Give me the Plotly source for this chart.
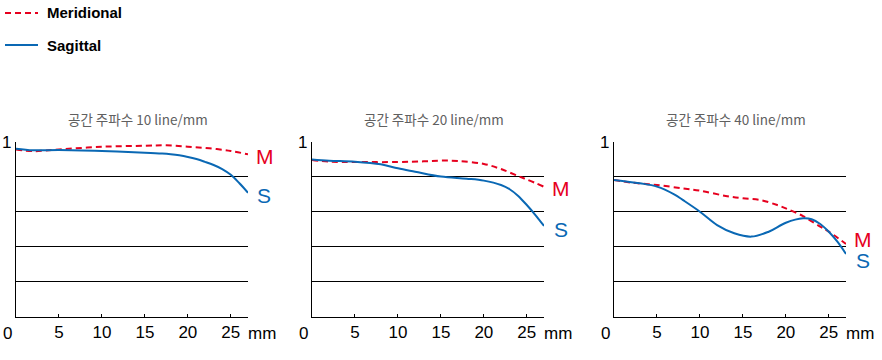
import plotly.graph_objects as go

# ---------------- data ----------------
freqs = ["10", "20", "40"]
titles = ["공간 주파수 10 line/mm", "공간 주파수 20 line/mm", "공간 주파수 40 line/mm"]

m10_x = [0, 2, 5, 10, 15, 17.5, 20, 22.5, 25, 27]
m10_y = [0.955, 0.945, 0.955, 0.970, 0.976, 0.978, 0.970, 0.961, 0.946, 0.927]
s10_x = [0, 2, 5, 10, 15, 17, 18, 19, 20, 21, 22, 23, 24, 25, 26, 27]
s10_y = [0.959, 0.950, 0.952, 0.946, 0.936, 0.931, 0.927, 0.921, 0.912, 0.900, 0.884, 0.866, 0.843, 0.810, 0.762, 0.708]

m20_x = [0, 2, 5, 10, 13, 15, 17, 20, 22, 24, 25, 27]
m20_y = [0.895, 0.885, 0.883, 0.883, 0.887, 0.891, 0.889, 0.872, 0.843, 0.803, 0.784, 0.742]
s20_x = [0, 2, 5, 8, 10, 12, 15, 18, 20, 22, 23, 24, 25, 26, 27]
s20_y = [0.898, 0.891, 0.885, 0.870, 0.847, 0.828, 0.800, 0.788, 0.777, 0.752, 0.728, 0.690, 0.638, 0.581, 0.519]

m40_x = [0, 2, 5, 8, 10, 13, 15, 17, 19, 20, 22, 24, 25, 27]
m40_y = [0.781, 0.766, 0.752, 0.733, 0.720, 0.690, 0.676, 0.667, 0.638, 0.619, 0.575, 0.515, 0.486, 0.416]
s40_x = [0, 3, 5, 7, 8, 10, 12, 14, 16, 18, 20, 22, 23, 24, 25, 26, 27]
s40_y = [0.781, 0.762, 0.743, 0.699, 0.667, 0.600, 0.524, 0.477, 0.458, 0.486, 0.537, 0.562, 0.557, 0.530, 0.486, 0.429, 0.359]

x_ticks = [5, 10, 15, 20, 25]
grid_vals = [0.2, 0.4, 0.6, 0.8]
series_names = ["Meridional", "Sagittal"]

# ---------------- style ----------------
W, H = 882, 360
RED = "#e6001e"
BLUE = "#0a68b4"
FONT = "Liberation Sans, Arial, Helvetica, sans-serif"
KFONT = "Noto Sans CJK KR, sans-serif"

# panel pixel geometry (left, right of plotting area)
panels_px = [(16, 248), (312, 544), (614, 846)]
y0_px, y1_px = 317, 141.5

def px_x(p):
    return p / W

def px_y(p):
    return 1 - p / H

fig = go.Figure()

data = [(m10_x, m10_y, s10_x, s10_y), (m20_x, m20_y, s20_x, s20_y), (m40_x, m40_y, s40_x, s40_y)]
for i, (mx, my, sx, sy) in enumerate(data):
    xa = "x" if i == 0 else f"x{i+1}"
    ya = "y" if i == 0 else f"y{i+1}"
    fig.add_trace(go.Scatter(x=mx, y=my, mode="lines", xaxis=xa, yaxis=ya,
                             line=dict(color=RED, width=2, dash="6px,4px", shape="spline", smoothing=1),
                             showlegend=False, name=series_names[0]))
    fig.add_trace(go.Scatter(x=sx, y=sy, mode="lines", xaxis=xa, yaxis=ya,
                             line=dict(color=BLUE, width=2, shape="spline", smoothing=1),
                             showlegend=False, name=series_names[1]))

layout = dict(width=W, height=H, margin=dict(l=0, r=0, t=0, b=0),
              plot_bgcolor="white", paper_bgcolor="white", showlegend=False)

annotations = []
shapes = []
for i, (l, r) in enumerate(panels_px):
    sfx = "" if i == 0 else str(i + 1)
    layout["xaxis" + sfx] = dict(domain=[px_x(l), px_x(r)], range=[0, 27], anchor="y" + sfx,
                                 showline=True, linecolor="black", linewidth=1,
                                 showgrid=False, zeroline=False,
                                 tickvals=x_ticks, ticks="inside", ticklen=3, tickcolor="black",
                                 tickfont=dict(family=FONT, size=17, color="black"),
                                 fixedrange=True)
    layout["yaxis" + sfx] = dict(domain=[px_y(y0_px), px_y(y1_px)], range=[0, 1], anchor="x" + sfx,
                                 showline=True, linecolor="black", linewidth=1,
                                 showgrid=True, gridcolor="black", gridwidth=1,
                                 zeroline=False, tickvals=grid_vals, showticklabels=False,
                                 fixedrange=True)
    # title
    annotations.append(dict(text=titles[i], x=px_x((l + r) / 2 + 6), y=px_y(119), xref="paper", yref="paper",
                            showarrow=False, font=dict(family=KFONT, size=13.5, color="#606060"),
                            xanchor="center", yanchor="middle"))
    # "1" and "0" labels
    annotations.append(dict(text="1", x=px_x(l - 10), y=px_y(143), xref="paper", yref="paper",
                            showarrow=False, font=dict(family=FONT, size=17, color="black"),
                            xanchor="center", yanchor="middle"))
    annotations.append(dict(text="0", x=px_x(l - 9), y=px_y(333), xref="paper", yref="paper",
                            showarrow=False, font=dict(family=FONT, size=17, color="black"),
                            xanchor="center", yanchor="middle"))
    annotations.append(dict(text="mm", x=px_x(r - 2), y=px_y(333), xref="paper", yref="paper",
                            showarrow=False, font=dict(family=FONT, size=17, color="black"),
                            xanchor="left", yanchor="middle"))

# M / S end labels
ms_pos = [((265, 156), (264, 196)), ((561, 188), (561, 229)), ((863, 239), (863, 260))]
for (mpos, spos) in ms_pos:
    annotations.append(dict(text="M", x=px_x(mpos[0]), y=px_y(mpos[1]), xref="paper", yref="paper",
                            showarrow=False, font=dict(family=FONT, size=21, color=RED),
                            xanchor="center", yanchor="middle"))
    annotations.append(dict(text="S", x=px_x(spos[0]), y=px_y(spos[1]), xref="paper", yref="paper",
                            showarrow=False, font=dict(family=FONT, size=21, color=BLUE),
                            xanchor="center", yanchor="middle"))

# legend (drawn manually)
shapes.append(dict(type="line", xref="paper", yref="paper", x0=px_x(5), x1=px_x(38), y0=px_y(13), y1=px_y(13),
                   line=dict(color=RED, width=2, dash="6px,4px")))
shapes.append(dict(type="line", xref="paper", yref="paper", x0=px_x(5), x1=px_x(38), y0=px_y(45), y1=px_y(45),
                   line=dict(color=BLUE, width=2)))
for name, yy in zip(series_names, [13, 45]):
    annotations.append(dict(text="<b>" + name + "</b>", x=px_x(45), y=px_y(yy), xref="paper", yref="paper",
                            showarrow=False, font=dict(family=FONT, size=15, color="black"),
                            xanchor="left", yanchor="middle"))

layout["annotations"] = annotations
layout["shapes"] = shapes
fig.update_layout(**layout)

fig.write_html("out.html", config={"displayModeBar": False},
               post_script="document.body.style.margin='0px';document.body.style.padding='0px';"
                           "document.body.style.overflow='hidden';")
